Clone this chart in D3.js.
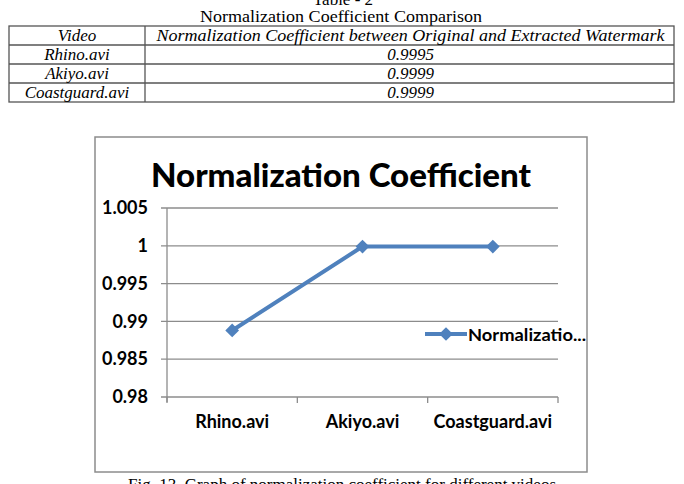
<!DOCTYPE html>
<html>
<head>
<meta charset="utf-8">
<script src="https://cdn.jsdelivr.net/npm/d3@7"></script>
<style>
    body { margin: 0; background: #fff; }
    svg { display: block; }
</style>
</head>
<body>
<script>
// DATA
let videos = ['Rhino.avi', 'Akiyo.avi', 'Coastguard.avi'];
let tableValues = ['0.9995', '0.9999', '0.9999'];          // values printed in the table
let chartValues = [0.9888, 0.9999, 0.9999];                 // values plotted in the graph
let yTicks = [0.98, 0.985, 0.99, 0.995, 1, 1.005];
let tableHeader = ['Video', 'Normalization Coefficient between Original and Extracted Watermark'];
let seriesName = 'Normalizatio...';

let width = 684;
let height = 484;

let svg = d3.select('body').append('svg')
    .attr('width', width)
    .attr('height', height);

// helper: squeeze a text element to a target width
let fitText = (sel, w) => sel.attr('textLength', w).attr('lengthAdjust', 'spacingAndGlyphs');

// TABLE ABOVE THE CHART
let serif = '"Liberation Serif", "Times New Roman", serif';

svg.append('text')
    .attr('x', 343).attr('y', 5)
    .attr('text-anchor', 'middle')
    .style('font-family', serif).style('font-size', '17px')
    .text('Table - 2');

svg.append('text')
    .attr('x', 341).attr('y', 22)
    .attr('text-anchor', 'middle')
    .style('font-family', serif).style('font-size', '17.5px')
    .call(fitText, 282)
    .text('Normalization Coefficient Comparison');

let rowY = d3.scaleBand().domain(d3.range(4)).range([26, 102]);
let tableLeft = 9, tableMid = 145, tableRight = 674;

let rows = [tableHeader].concat(videos.map((v, i) => [v, tableValues[i]]));

let tbl = svg.append('g');
tbl.append('rect')
    .attr('x', tableLeft).attr('y', 26)
    .attr('width', tableRight - tableLeft).attr('height', 76)
    .attr('fill', 'none').attr('stroke', '#555').attr('stroke-width', 1.3);
tbl.selectAll('line.row')
    .data(d3.range(1, 4))
    .enter().append('line')
    .attr('x1', tableLeft).attr('x2', tableRight)
    .attr('y1', d => rowY(d)).attr('y2', d => rowY(d))
    .attr('stroke', '#555').attr('stroke-width', 1.3);
tbl.append('line')
    .attr('x1', tableMid).attr('x2', tableMid)
    .attr('y1', 26).attr('y2', 102)
    .attr('stroke', '#555').attr('stroke-width', 1.3);

rows.forEach((r, i) => {
    let yy = rowY(i) + rowY.bandwidth() / 2 + 5.5;
    tbl.append('text')
        .attr('x', (tableLeft + tableMid) / 2).attr('y', yy)
        .attr('text-anchor', 'middle')
        .style('font-family', serif).style('font-style', 'italic').style('font-size', '17px')
        .text(r[0]);
    let t = tbl.append('text')
        .attr('x', (tableMid + tableRight) / 2 + 1).attr('y', yy)
        .attr('text-anchor', 'middle')
        .style('font-family', serif).style('font-style', 'italic').style('font-size', '17px')
        .text(r[1]);
    if (i == 0) t.call(fitText, 508);
});

// CHART BOX
let boxX = 95, boxY = 137, boxW = 492, boxH = 335;
svg.append('rect')
    .attr('x', boxX).attr('y', boxY)
    .attr('width', boxW).attr('height', boxH)
    .attr('fill', '#fff').attr('stroke', '#8c8c8c').attr('stroke-width', 1.5);

let sans = 'Lato, "Open Sans", sans-serif';

svg.append('text')
    .attr('x', 341).attr('y', 187)
    .attr('text-anchor', 'middle')
    .style('font-family', sans).style('font-weight', 900).style('font-size', '32px')
    .call(fitText, 380)
    .text('Normalization Coefficient');

// SCALES
let plotLeft = 167, plotRight = 558, plotTop = 208, plotBottom = 397;

let xScale = d3.scaleBand()
    .domain(videos)
    .range([plotLeft, plotRight]);

let yScale = d3.scaleLinear()
    .domain([0.98, 1.005])
    .range([plotBottom, plotTop]);

// gridlines
svg.append('g')
    .selectAll('line')
    .data(yTicks)
    .enter().append('line')
    .attr('x1', plotLeft - 6).attr('x2', plotRight)
    .attr('y1', d => yScale(d)).attr('y2', d => yScale(d))
    .attr('stroke', '#8c8c8c').attr('stroke-width', 1.3);

// y axis
let yAxis = d3.axisLeft(yScale)
    .tickValues(yTicks)
    .tickSize(0)
    .tickPadding(19)
    .tickFormat(d => String(+d.toFixed(3)));

svg.append('g')
    .attr('transform', 'translate(' + plotLeft + ',0)')
    .call(yAxis)
    .call(g => g.select('.domain').remove())
    .selectAll('text')
    .style('font-family', sans).style('font-weight', 700).style('font-size', '18px')
    .attr('fill', '#000');

svg.append('line')
    .attr('x1', plotLeft).attr('x2', plotLeft)
    .attr('y1', plotTop).attr('y2', plotBottom + 5)
    .attr('stroke', '#8c8c8c').attr('stroke-width', 1.3);

// x axis: ticks at category boundaries
let boundaries = videos.map(v => xScale(v)).concat([plotRight]);
svg.append('g')
    .selectAll('line')
    .data(boundaries)
    .enter().append('line')
    .attr('x1', d => d).attr('x2', d => d)
    .attr('y1', plotBottom).attr('y2', plotBottom + 6)
    .attr('stroke', '#8c8c8c').attr('stroke-width', 1.3);

svg.append('g')
    .selectAll('text')
    .data(videos)
    .enter().append('text')
    .attr('x', d => xScale(d) + xScale.bandwidth() / 2)
    .attr('y', 428)
    .attr('text-anchor', 'middle')
    .style('font-family', sans).style('font-weight', 700).style('font-size', '18px')
    .text(d => d);

// SERIES LINE
let lineColor = '#4f81bd';
let line = d3.line()
    .x((d, i) => xScale(videos[i]) + xScale.bandwidth() / 2)
    .y(d => yScale(d));

svg.append('path')
    .datum(chartValues)
    .attr('d', line)
    .attr('fill', 'none')
    .attr('stroke', lineColor)
    .attr('stroke-width', 4);

let diamond = d3.symbol().type(d3.symbolDiamond2).size(120);

svg.append('g')
    .selectAll('path')
    .data(chartValues)
    .enter().append('path')
    .attr('d', diamond)
    .attr('transform', (d, i) => 'translate(' + (xScale(videos[i]) + xScale.bandwidth() / 2) + ',' + yScale(d) + ')')
    .attr('fill', lineColor);

// LEGEND
let legend = svg.append('g').attr('transform', 'translate(425,334)');
legend.append('line')
    .attr('x1', 0).attr('x2', 42)
    .attr('stroke', lineColor).attr('stroke-width', 4);
legend.append('path')
    .attr('d', diamond)
    .attr('transform', 'translate(21,0)')
    .attr('fill', lineColor);
legend.append('text')
    .attr('x', 43).attr('y', 6.5)
    .style('font-family', sans).style('font-weight', 700).style('font-size', '17px')
    .call(fitText, 118)
    .text(seriesName);

// CAPTION
svg.append('text')
    .attr('x', 342).attr('y', 490)
    .attr('text-anchor', 'middle')
    .style('font-family', serif).style('font-size', '17px')
    .text('Fig. 13. Graph of normalization coefficient for different videos');
</script>
</body>
</html>
